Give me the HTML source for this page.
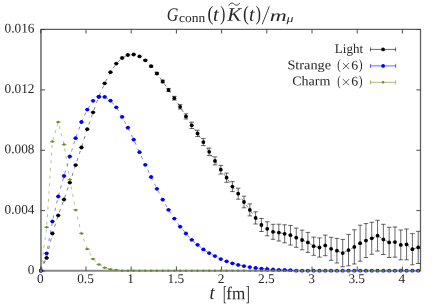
<!DOCTYPE html>
<html><head><meta charset="utf-8"><title>plot</title>
<style>
html,body{margin:0;padding:0;background:#fff;}
body{width:436px;height:305px;overflow:hidden;font-family:"Liberation Serif",serif;}
svg{display:block;}
text{font-family:"Liberation Serif",serif;fill:#262626;}
.tk{font-size:13.3px;}
.lg{font-size:12.5px;}
</style></head><body>
<svg width="436" height="305" viewBox="0 0 436 305">
<rect x="0" y="0" width="436" height="305" fill="#ffffff"/>

<line x1="40.949999999999996" y1="29.3" x2="40.949999999999996" y2="271.65" stroke="#888888" stroke-width="1.9"/>
<line x1="40.0" y1="270.7" x2="420.5" y2="270.7" stroke="#888888" stroke-width="1.9"/>
<path d="M40.8 29.3 H420.5 V270.7" fill="none" stroke="#606060" stroke-width="1.3"/>
<path d="M40.80 270.7 v-4.2 M40.80 29.3 v4.2 M86.00 270.7 v-4.2 M86.00 29.3 v4.2 M131.20 270.7 v-4.2 M131.20 29.3 v4.2 M176.40 270.7 v-4.2 M176.40 29.3 v4.2 M221.60 270.7 v-4.2 M221.60 29.3 v4.2 M266.80 270.7 v-4.2 M266.80 29.3 v4.2 M312.00 270.7 v-4.2 M312.00 29.3 v4.2 M357.20 270.7 v-4.2 M357.20 29.3 v4.2 M402.40 270.7 v-4.2 M402.40 29.3 v4.2 M40.8 270.95 h4.2 M420.5 270.95 h-4.2 M40.8 210.60 h4.2 M420.5 210.60 h-4.2 M40.8 150.25 h4.2 M420.5 150.25 h-4.2 M40.8 89.90 h4.2 M420.5 89.90 h-4.2 M40.8 29.55 h4.2 M420.5 29.55 h-4.2" fill="none" stroke="#3a3a3a" stroke-width="0.9"/>
<g opacity="0.995">
<text class="tk" transform="translate(40.3,283.0) rotate(0.05)" text-anchor="middle">0</text>
<text class="tk" transform="translate(85.5,283.0) rotate(0.05)" text-anchor="middle">0.5</text>
<text class="tk" transform="translate(130.7,283.0) rotate(0.05)" text-anchor="middle">1</text>
<text class="tk" transform="translate(175.9,283.0) rotate(0.05)" text-anchor="middle">1.5</text>
<text class="tk" transform="translate(221.1,283.0) rotate(0.05)" text-anchor="middle">2</text>
<text class="tk" transform="translate(266.3,283.0) rotate(0.05)" text-anchor="middle">2.5</text>
<text class="tk" transform="translate(311.5,283.0) rotate(0.05)" text-anchor="middle">3</text>
<text class="tk" transform="translate(356.7,283.0) rotate(0.05)" text-anchor="middle">3.5</text>
<text class="tk" transform="translate(401.9,283.0) rotate(0.05)" text-anchor="middle">4</text>
<text class="tk" transform="translate(34.5,274.0) rotate(0.05)" text-anchor="end">0</text>
<text class="tk" transform="translate(34.5,213.7) rotate(0.05)" text-anchor="end">0.004</text>
<text class="tk" transform="translate(34.5,153.3) rotate(0.05)" text-anchor="end">0.008</text>
<text class="tk" transform="translate(34.5,93.0) rotate(0.05)" text-anchor="end">0.012</text>
<text class="tk" transform="translate(34.5,32.6) rotate(0.05)" text-anchor="end">0.016</text>
</g>
<polyline points="40.80,270.70 46.61,257.90 52.41,233.50 58.22,215.40 64.02,199.50 69.83,182.60 75.64,165.10 81.44,147.50 87.25,129.20 93.05,112.30 98.86,96.60 104.67,83.30 110.47,72.20 116.28,63.60 122.08,58.00 127.89,55.00 133.70,54.50 139.50,56.40 145.31,60.30 151.11,66.20 156.92,73.50 162.73,81.50 168.53,90.00 174.34,98.20 180.14,106.80 185.95,116.40 191.76,125.30 197.56,133.40 203.37,142.10 209.17,151.80 214.98,160.90 220.79,169.70 226.59,177.70 232.40,186.60 238.20,193.70 244.01,202.00 249.82,209.90 255.62,217.90 261.43,225.00 267.23,228.80 273.04,231.80 278.85,232.60 284.65,233.80 290.46,235.20 296.26,237.70 302.07,240.00 307.88,242.40 313.68,246.20 319.49,247.50 325.29,245.40 331.10,248.80 336.91,250.70 342.71,253.10 348.52,250.10 354.32,246.90 360.13,243.20 365.94,240.60 371.74,238.30 377.55,235.70 383.35,239.40 389.16,242.40 394.97,242.10 400.77,244.90 406.58,244.40 412.38,249.20 418.19,247.40" fill="none" stroke="#000000" stroke-width="0.5" stroke-dasharray="3.2 4.5"/>
<path d="M46.61 257.70 V258.10 M44.36 257.70 h4.5 M44.36 258.10 h4.5 M52.41 233.30 V233.70 M50.16 233.30 h4.5 M50.16 233.70 h4.5 M58.22 215.20 V215.60 M55.97 215.20 h4.5 M55.97 215.60 h4.5 M64.02 199.30 V199.70 M61.77 199.30 h4.5 M61.77 199.70 h4.5 M69.83 182.40 V182.80 M67.58 182.40 h4.5 M67.58 182.80 h4.5 M75.64 164.90 V165.30 M73.39 164.90 h4.5 M73.39 165.30 h4.5 M81.44 147.30 V147.70 M79.19 147.30 h4.5 M79.19 147.70 h4.5 M87.25 129.00 V129.40 M85.00 129.00 h4.5 M85.00 129.40 h4.5 M93.05 112.10 V112.50 M90.80 112.10 h4.5 M90.80 112.50 h4.5 M98.86 96.40 V96.80 M96.61 96.40 h4.5 M96.61 96.80 h4.5 M104.67 83.10 V83.50 M102.42 83.10 h4.5 M102.42 83.50 h4.5 M110.47 72.00 V72.40 M108.22 72.00 h4.5 M108.22 72.40 h4.5 M116.28 63.40 V63.80 M114.03 63.40 h4.5 M114.03 63.80 h4.5 M122.08 57.80 V58.20 M119.83 57.80 h4.5 M119.83 58.20 h4.5 M127.89 54.80 V55.20 M125.64 54.80 h4.5 M125.64 55.20 h4.5 M133.70 54.30 V54.70 M131.45 54.30 h4.5 M131.45 54.70 h4.5 M139.50 56.20 V56.60 M137.25 56.20 h4.5 M137.25 56.60 h4.5 M145.31 59.70 V60.90 M143.06 59.70 h4.5 M143.06 60.90 h4.5 M151.11 65.40 V67.00 M148.86 65.40 h4.5 M148.86 67.00 h4.5 M156.92 72.50 V74.50 M154.67 72.50 h4.5 M154.67 74.50 h4.5 M162.73 80.20 V82.80 M160.48 80.20 h4.5 M160.48 82.80 h4.5 M168.53 88.40 V91.60 M166.28 88.40 h4.5 M166.28 91.60 h4.5 M174.34 96.30 V100.10 M172.09 96.30 h4.5 M172.09 100.10 h4.5 M180.14 104.60 V109.00 M177.89 104.60 h4.5 M177.89 109.00 h4.5 M185.95 113.80 V119.00 M183.70 113.80 h4.5 M183.70 119.00 h4.5 M191.76 122.10 V128.50 M189.51 122.10 h4.5 M189.51 128.50 h4.5 M197.56 130.20 V136.60 M195.31 130.20 h4.5 M195.31 136.60 h4.5 M203.37 138.60 V145.60 M201.12 138.60 h4.5 M201.12 145.60 h4.5 M209.17 148.00 V155.60 M206.92 148.00 h4.5 M206.92 155.60 h4.5 M214.98 156.90 V164.90 M212.73 156.90 h4.5 M212.73 164.90 h4.5 M220.79 165.40 V174.00 M218.54 165.40 h4.5 M218.54 174.00 h4.5 M226.59 173.10 V182.30 M224.34 173.10 h4.5 M224.34 182.30 h4.5 M232.40 181.60 V191.60 M230.15 181.60 h4.5 M230.15 191.60 h4.5 M238.20 188.20 V199.20 M235.95 188.20 h4.5 M235.95 199.20 h4.5 M244.01 196.20 V207.80 M241.76 196.20 h4.5 M241.76 207.80 h4.5 M249.82 203.90 V215.90 M247.57 203.90 h4.5 M247.57 215.90 h4.5 M255.62 211.80 V224.00 M253.37 211.80 h4.5 M253.37 224.00 h4.5 M261.43 218.50 V231.50 M259.18 218.50 h4.5 M259.18 231.50 h4.5 M267.23 221.80 V235.80 M264.98 221.80 h4.5 M264.98 235.80 h4.5 M273.04 224.30 V239.30 M270.79 224.30 h4.5 M270.79 239.30 h4.5 M278.85 224.20 V241.00 M276.60 224.20 h4.5 M276.60 241.00 h4.5 M284.65 224.80 V242.80 M282.40 224.80 h4.5 M282.40 242.80 h4.5 M290.46 225.40 V245.00 M288.21 225.40 h4.5 M288.21 245.00 h4.5 M296.26 228.10 V247.30 M294.01 228.10 h4.5 M294.01 247.30 h4.5 M302.07 230.20 V249.80 M299.82 230.20 h4.5 M299.82 249.80 h4.5 M307.88 232.40 V252.40 M305.63 232.40 h4.5 M305.63 252.40 h4.5 M313.68 237.10 V255.30 M311.43 237.10 h4.5 M311.43 255.30 h4.5 M319.49 237.90 V257.10 M317.24 237.90 h4.5 M317.24 257.10 h4.5 M325.29 235.10 V255.70 M323.04 235.10 h4.5 M323.04 255.70 h4.5 M331.10 237.30 V260.30 M328.85 237.30 h4.5 M328.85 260.30 h4.5 M336.91 238.40 V263.00 M334.66 238.40 h4.5 M334.66 263.00 h4.5 M342.71 239.40 V266.80 M340.46 239.40 h4.5 M340.46 266.80 h4.5 M348.52 234.40 V265.80 M346.27 234.40 h4.5 M346.27 265.80 h4.5 M354.32 229.80 V264.00 M352.07 229.80 h4.5 M352.07 264.00 h4.5 M360.13 225.20 V261.20 M357.88 225.20 h4.5 M357.88 261.20 h4.5 M365.94 223.60 V257.60 M363.69 223.60 h4.5 M363.69 257.60 h4.5 M371.74 222.30 V254.30 M369.49 222.30 h4.5 M369.49 254.30 h4.5 M377.55 220.30 V251.10 M375.30 220.30 h4.5 M375.30 251.10 h4.5 M383.35 224.30 V254.50 M381.10 224.30 h4.5 M381.10 254.50 h4.5 M389.16 227.30 V257.50 M386.91 227.30 h4.5 M386.91 257.50 h4.5 M394.97 227.00 V257.20 M392.72 227.00 h4.5 M392.72 257.20 h4.5 M400.77 230.00 V259.80 M398.52 230.00 h4.5 M398.52 259.80 h4.5 M406.58 229.00 V259.80 M404.33 229.00 h4.5 M404.33 259.80 h4.5 M412.38 233.60 V264.80 M410.13 233.60 h4.5 M410.13 264.80 h4.5 M418.19 231.30 V263.50 M415.94 231.30 h4.5 M415.94 263.50 h4.5" fill="none" stroke="#000000" stroke-width="0.6"/>
<circle cx="40.80" cy="270.70" r="1.9" fill="#000000"/>
<circle cx="46.61" cy="257.90" r="1.9" fill="#000000"/>
<circle cx="52.41" cy="233.50" r="1.9" fill="#000000"/>
<circle cx="58.22" cy="215.40" r="1.9" fill="#000000"/>
<circle cx="64.02" cy="199.50" r="1.9" fill="#000000"/>
<circle cx="69.83" cy="182.60" r="1.9" fill="#000000"/>
<circle cx="75.64" cy="165.10" r="1.9" fill="#000000"/>
<circle cx="81.44" cy="147.50" r="1.9" fill="#000000"/>
<circle cx="87.25" cy="129.20" r="1.9" fill="#000000"/>
<circle cx="93.05" cy="112.30" r="1.9" fill="#000000"/>
<circle cx="98.86" cy="96.60" r="1.9" fill="#000000"/>
<circle cx="104.67" cy="83.30" r="1.9" fill="#000000"/>
<circle cx="110.47" cy="72.20" r="1.9" fill="#000000"/>
<circle cx="116.28" cy="63.60" r="1.9" fill="#000000"/>
<circle cx="122.08" cy="58.00" r="1.9" fill="#000000"/>
<circle cx="127.89" cy="55.00" r="1.9" fill="#000000"/>
<circle cx="133.70" cy="54.50" r="1.9" fill="#000000"/>
<circle cx="139.50" cy="56.40" r="1.9" fill="#000000"/>
<circle cx="145.31" cy="60.30" r="1.9" fill="#000000"/>
<circle cx="151.11" cy="66.20" r="1.9" fill="#000000"/>
<circle cx="156.92" cy="73.50" r="1.9" fill="#000000"/>
<circle cx="162.73" cy="81.50" r="1.9" fill="#000000"/>
<circle cx="168.53" cy="90.00" r="1.9" fill="#000000"/>
<circle cx="174.34" cy="98.20" r="1.9" fill="#000000"/>
<circle cx="180.14" cy="106.80" r="1.9" fill="#000000"/>
<circle cx="185.95" cy="116.40" r="1.9" fill="#000000"/>
<circle cx="191.76" cy="125.30" r="1.9" fill="#000000"/>
<circle cx="197.56" cy="133.40" r="1.9" fill="#000000"/>
<circle cx="203.37" cy="142.10" r="1.9" fill="#000000"/>
<circle cx="209.17" cy="151.80" r="1.9" fill="#000000"/>
<circle cx="214.98" cy="160.90" r="1.9" fill="#000000"/>
<circle cx="220.79" cy="169.70" r="1.9" fill="#000000"/>
<circle cx="226.59" cy="177.70" r="1.9" fill="#000000"/>
<circle cx="232.40" cy="186.60" r="1.9" fill="#000000"/>
<circle cx="238.20" cy="193.70" r="1.9" fill="#000000"/>
<circle cx="244.01" cy="202.00" r="1.9" fill="#000000"/>
<circle cx="249.82" cy="209.90" r="1.9" fill="#000000"/>
<circle cx="255.62" cy="217.90" r="1.9" fill="#000000"/>
<circle cx="261.43" cy="225.00" r="1.9" fill="#000000"/>
<circle cx="267.23" cy="228.80" r="1.9" fill="#000000"/>
<circle cx="273.04" cy="231.80" r="1.9" fill="#000000"/>
<circle cx="278.85" cy="232.60" r="1.9" fill="#000000"/>
<circle cx="284.65" cy="233.80" r="1.9" fill="#000000"/>
<circle cx="290.46" cy="235.20" r="1.9" fill="#000000"/>
<circle cx="296.26" cy="237.70" r="1.9" fill="#000000"/>
<circle cx="302.07" cy="240.00" r="1.9" fill="#000000"/>
<circle cx="307.88" cy="242.40" r="1.9" fill="#000000"/>
<circle cx="313.68" cy="246.20" r="1.9" fill="#000000"/>
<circle cx="319.49" cy="247.50" r="1.9" fill="#000000"/>
<circle cx="325.29" cy="245.40" r="1.9" fill="#000000"/>
<circle cx="331.10" cy="248.80" r="1.9" fill="#000000"/>
<circle cx="336.91" cy="250.70" r="1.9" fill="#000000"/>
<circle cx="342.71" cy="253.10" r="1.9" fill="#000000"/>
<circle cx="348.52" cy="250.10" r="1.9" fill="#000000"/>
<circle cx="354.32" cy="246.90" r="1.9" fill="#000000"/>
<circle cx="360.13" cy="243.20" r="1.9" fill="#000000"/>
<circle cx="365.94" cy="240.60" r="1.9" fill="#000000"/>
<circle cx="371.74" cy="238.30" r="1.9" fill="#000000"/>
<circle cx="377.55" cy="235.70" r="1.9" fill="#000000"/>
<circle cx="383.35" cy="239.40" r="1.9" fill="#000000"/>
<circle cx="389.16" cy="242.40" r="1.9" fill="#000000"/>
<circle cx="394.97" cy="242.10" r="1.9" fill="#000000"/>
<circle cx="400.77" cy="244.90" r="1.9" fill="#000000"/>
<circle cx="406.58" cy="244.40" r="1.9" fill="#000000"/>
<circle cx="412.38" cy="249.20" r="1.9" fill="#000000"/>
<circle cx="418.19" cy="247.40" r="1.9" fill="#000000"/>
<polyline points="40.80,270.70 46.61,253.30 52.41,221.40 58.22,196.50 64.02,176.00 69.83,156.50 75.64,138.20 81.44,122.00 87.25,109.60 93.05,100.80 98.86,96.90 104.67,96.90 110.47,100.70 116.28,107.30 122.08,116.90 127.89,127.70 133.70,139.70 139.50,152.20 145.31,164.80 151.11,177.00 156.92,188.80 162.73,199.70 168.53,209.80 174.34,218.60 180.14,226.70 185.95,233.50 191.76,239.80 197.56,244.80 203.37,249.40 209.17,253.10 214.98,256.10 220.79,259.10 226.59,261.30 232.40,263.30 238.20,264.90 244.01,266.10 249.82,267.10 255.62,268.00 261.43,268.60 267.23,269.10 273.04,269.50 278.85,269.80 284.65,270.00 290.46,270.20 296.26,270.70" fill="none" stroke="#0000ff" stroke-width="0.5" stroke-dasharray="3.2 4.5"/>
<path d="M46.61 253.15 V253.45 M44.36 253.15 h4.5 M44.36 253.45 h4.5 M52.41 221.25 V221.55 M50.16 221.25 h4.5 M50.16 221.55 h4.5 M58.22 196.35 V196.65 M55.97 196.35 h4.5 M55.97 196.65 h4.5 M64.02 175.85 V176.15 M61.77 175.85 h4.5 M61.77 176.15 h4.5 M69.83 156.35 V156.65 M67.58 156.35 h4.5 M67.58 156.65 h4.5 M75.64 138.05 V138.35 M73.39 138.05 h4.5 M73.39 138.35 h4.5 M81.44 121.85 V122.15 M79.19 121.85 h4.5 M79.19 122.15 h4.5 M87.25 109.45 V109.75 M85.00 109.45 h4.5 M85.00 109.75 h4.5 M93.05 100.65 V100.95 M90.80 100.65 h4.5 M90.80 100.95 h4.5 M98.86 96.75 V97.05 M96.61 96.75 h4.5 M96.61 97.05 h4.5 M104.67 96.75 V97.05 M102.42 96.75 h4.5 M102.42 97.05 h4.5 M110.47 100.55 V100.85 M108.22 100.55 h4.5 M108.22 100.85 h4.5 M116.28 107.15 V107.45 M114.03 107.15 h4.5 M114.03 107.45 h4.5 M122.08 116.75 V117.05 M119.83 116.75 h4.5 M119.83 117.05 h4.5 M127.89 127.55 V127.85 M125.64 127.55 h4.5 M125.64 127.85 h4.5 M133.70 139.55 V139.85 M131.45 139.55 h4.5 M131.45 139.85 h4.5 M139.50 152.05 V152.35 M137.25 152.05 h4.5 M137.25 152.35 h4.5 M145.31 164.65 V164.95 M143.06 164.65 h4.5 M143.06 164.95 h4.5 M151.11 176.85 V177.15 M148.86 176.85 h4.5 M148.86 177.15 h4.5 M156.92 188.65 V188.95 M154.67 188.65 h4.5 M154.67 188.95 h4.5 M162.73 199.55 V199.85 M160.48 199.55 h4.5 M160.48 199.85 h4.5 M168.53 209.65 V209.95 M166.28 209.65 h4.5 M166.28 209.95 h4.5 M174.34 218.45 V218.75 M172.09 218.45 h4.5 M172.09 218.75 h4.5 M180.14 226.55 V226.85 M177.89 226.55 h4.5 M177.89 226.85 h4.5 M185.95 233.35 V233.65 M183.70 233.35 h4.5 M183.70 233.65 h4.5 M191.76 239.65 V239.95 M189.51 239.65 h4.5 M189.51 239.95 h4.5 M197.56 244.65 V244.95 M195.31 244.65 h4.5 M195.31 244.95 h4.5 M203.37 249.25 V249.55 M201.12 249.25 h4.5 M201.12 249.55 h4.5 M209.17 252.95 V253.25 M206.92 252.95 h4.5 M206.92 253.25 h4.5 M214.98 255.95 V256.25 M212.73 255.95 h4.5 M212.73 256.25 h4.5 M220.79 258.95 V259.25 M218.54 258.95 h4.5 M218.54 259.25 h4.5 M226.59 261.15 V261.45 M224.34 261.15 h4.5 M224.34 261.45 h4.5 M232.40 263.15 V263.45 M230.15 263.15 h4.5 M230.15 263.45 h4.5 M238.20 264.75 V265.05 M235.95 264.75 h4.5 M235.95 265.05 h4.5 M244.01 265.95 V266.25 M241.76 265.95 h4.5 M241.76 266.25 h4.5 M249.82 266.95 V267.25 M247.57 266.95 h4.5 M247.57 267.25 h4.5 M255.62 267.85 V268.15 M253.37 267.85 h4.5 M253.37 268.15 h4.5 M261.43 268.45 V268.75 M259.18 268.45 h4.5 M259.18 268.75 h4.5 M267.23 268.95 V269.25 M264.98 268.95 h4.5 M264.98 269.25 h4.5 M273.04 269.35 V269.65 M270.79 269.35 h4.5 M270.79 269.65 h4.5 M278.85 269.65 V269.95 M276.60 269.65 h4.5 M276.60 269.95 h4.5 M284.65 269.85 V270.15 M282.40 269.85 h4.5 M282.40 270.15 h4.5 M290.46 270.05 V270.35 M288.21 270.05 h4.5 M288.21 270.35 h4.5" fill="none" stroke="#0000ff" stroke-width="0.6"/>
<circle cx="40.80" cy="270.70" r="1.9" fill="#0000ff"/>
<circle cx="46.61" cy="253.30" r="1.9" fill="#0000ff"/>
<circle cx="52.41" cy="221.40" r="1.9" fill="#0000ff"/>
<circle cx="58.22" cy="196.50" r="1.9" fill="#0000ff"/>
<circle cx="64.02" cy="176.00" r="1.9" fill="#0000ff"/>
<circle cx="69.83" cy="156.50" r="1.9" fill="#0000ff"/>
<circle cx="75.64" cy="138.20" r="1.9" fill="#0000ff"/>
<circle cx="81.44" cy="122.00" r="1.9" fill="#0000ff"/>
<circle cx="87.25" cy="109.60" r="1.9" fill="#0000ff"/>
<circle cx="93.05" cy="100.80" r="1.9" fill="#0000ff"/>
<circle cx="98.86" cy="96.90" r="1.9" fill="#0000ff"/>
<circle cx="104.67" cy="96.90" r="1.9" fill="#0000ff"/>
<circle cx="110.47" cy="100.70" r="1.9" fill="#0000ff"/>
<circle cx="116.28" cy="107.30" r="1.9" fill="#0000ff"/>
<circle cx="122.08" cy="116.90" r="1.9" fill="#0000ff"/>
<circle cx="127.89" cy="127.70" r="1.9" fill="#0000ff"/>
<circle cx="133.70" cy="139.70" r="1.9" fill="#0000ff"/>
<circle cx="139.50" cy="152.20" r="1.9" fill="#0000ff"/>
<circle cx="145.31" cy="164.80" r="1.9" fill="#0000ff"/>
<circle cx="151.11" cy="177.00" r="1.9" fill="#0000ff"/>
<circle cx="156.92" cy="188.80" r="1.9" fill="#0000ff"/>
<circle cx="162.73" cy="199.70" r="1.9" fill="#0000ff"/>
<circle cx="168.53" cy="209.80" r="1.9" fill="#0000ff"/>
<circle cx="174.34" cy="218.60" r="1.9" fill="#0000ff"/>
<circle cx="180.14" cy="226.70" r="1.9" fill="#0000ff"/>
<circle cx="185.95" cy="233.50" r="1.9" fill="#0000ff"/>
<circle cx="191.76" cy="239.80" r="1.9" fill="#0000ff"/>
<circle cx="197.56" cy="244.80" r="1.9" fill="#0000ff"/>
<circle cx="203.37" cy="249.40" r="1.9" fill="#0000ff"/>
<circle cx="209.17" cy="253.10" r="1.9" fill="#0000ff"/>
<circle cx="214.98" cy="256.10" r="1.9" fill="#0000ff"/>
<circle cx="220.79" cy="259.10" r="1.9" fill="#0000ff"/>
<circle cx="226.59" cy="261.30" r="1.9" fill="#0000ff"/>
<circle cx="232.40" cy="263.30" r="1.9" fill="#0000ff"/>
<circle cx="238.20" cy="264.90" r="1.9" fill="#0000ff"/>
<circle cx="244.01" cy="266.10" r="1.9" fill="#0000ff"/>
<circle cx="249.82" cy="267.10" r="1.9" fill="#0000ff"/>
<circle cx="255.62" cy="268.00" r="1.9" fill="#0000ff"/>
<circle cx="261.43" cy="268.60" r="1.9" fill="#0000ff"/>
<circle cx="267.23" cy="269.10" r="1.9" fill="#0000ff"/>
<circle cx="273.04" cy="269.50" r="1.9" fill="#0000ff"/>
<circle cx="278.85" cy="269.80" r="1.9" fill="#0000ff"/>
<circle cx="284.65" cy="270.00" r="1.9" fill="#0000ff"/>
<circle cx="290.46" cy="270.20" r="1.9" fill="#0000ff"/>
<circle cx="296.26" cy="270.70" r="1.9" fill="#0000ff"/>
<circle cx="302.07" cy="270.70" r="1.9" fill="#0000ff"/>
<circle cx="307.88" cy="270.70" r="1.9" fill="#0000ff"/>
<circle cx="313.68" cy="270.70" r="1.9" fill="#0000ff"/>
<circle cx="319.49" cy="270.70" r="1.9" fill="#0000ff"/>
<circle cx="325.29" cy="270.70" r="1.9" fill="#0000ff"/>
<circle cx="331.10" cy="270.70" r="1.9" fill="#0000ff"/>
<circle cx="336.91" cy="270.70" r="1.9" fill="#0000ff"/>
<circle cx="342.71" cy="270.70" r="1.9" fill="#0000ff"/>
<circle cx="348.52" cy="270.70" r="1.9" fill="#0000ff"/>
<circle cx="354.32" cy="270.70" r="1.9" fill="#0000ff"/>
<circle cx="360.13" cy="270.70" r="1.9" fill="#0000ff"/>
<circle cx="365.94" cy="270.70" r="1.9" fill="#0000ff"/>
<circle cx="371.74" cy="270.70" r="1.9" fill="#0000ff"/>
<circle cx="377.55" cy="270.70" r="1.9" fill="#0000ff"/>
<circle cx="383.35" cy="270.70" r="1.9" fill="#0000ff"/>
<circle cx="389.16" cy="270.70" r="1.9" fill="#0000ff"/>
<circle cx="394.97" cy="270.70" r="1.9" fill="#0000ff"/>
<circle cx="400.77" cy="270.70" r="1.9" fill="#0000ff"/>
<circle cx="406.58" cy="270.70" r="1.9" fill="#0000ff"/>
<circle cx="412.38" cy="270.70" r="1.9" fill="#0000ff"/>
<circle cx="418.19" cy="270.70" r="1.9" fill="#0000ff"/>
<polyline points="40.80,270.70 46.61,227.30 52.41,141.60 58.22,122.10 64.02,144.60 69.83,179.60 75.64,209.90 81.44,233.40 87.25,249.10 93.05,258.90 98.86,264.40 104.67,267.70 110.47,269.20 116.28,270.00 122.08,270.70" fill="none" stroke="#6b8e23" stroke-width="0.5" stroke-dasharray="3.2 4.5"/>
<path d="M46.61 227.15 V227.45 M44.36 227.15 h4.5 M44.36 227.45 h4.5 M52.41 141.45 V141.75 M50.16 141.45 h4.5 M50.16 141.75 h4.5 M58.22 121.95 V122.25 M55.97 121.95 h4.5 M55.97 122.25 h4.5 M64.02 144.45 V144.75 M61.77 144.45 h4.5 M61.77 144.75 h4.5 M69.83 179.45 V179.75 M67.58 179.45 h4.5 M67.58 179.75 h4.5 M75.64 209.75 V210.05 M73.39 209.75 h4.5 M73.39 210.05 h4.5 M81.44 233.25 V233.55 M79.19 233.25 h4.5 M79.19 233.55 h4.5 M87.25 248.95 V249.25 M85.00 248.95 h4.5 M85.00 249.25 h4.5 M93.05 258.75 V259.05 M90.80 258.75 h4.5 M90.80 259.05 h4.5 M98.86 264.25 V264.55 M96.61 264.25 h4.5 M96.61 264.55 h4.5 M104.67 267.55 V267.85 M102.42 267.55 h4.5 M102.42 267.85 h4.5 M110.47 269.05 V269.35 M108.22 269.05 h4.5 M108.22 269.35 h4.5 M116.28 269.85 V270.15 M114.03 269.85 h4.5 M114.03 270.15 h4.5" fill="none" stroke="#6b8e23" stroke-width="0.6"/>
<circle cx="40.80" cy="270.70" r="1.25" fill="#6b8e23"/>
<circle cx="46.61" cy="227.30" r="1.25" fill="#6b8e23"/>
<circle cx="52.41" cy="141.60" r="1.25" fill="#6b8e23"/>
<circle cx="58.22" cy="122.10" r="1.25" fill="#6b8e23"/>
<circle cx="64.02" cy="144.60" r="1.25" fill="#6b8e23"/>
<circle cx="69.83" cy="179.60" r="1.25" fill="#6b8e23"/>
<circle cx="75.64" cy="209.90" r="1.25" fill="#6b8e23"/>
<circle cx="81.44" cy="233.40" r="1.25" fill="#6b8e23"/>
<circle cx="87.25" cy="249.10" r="1.25" fill="#6b8e23"/>
<circle cx="93.05" cy="258.90" r="1.25" fill="#6b8e23"/>
<circle cx="98.86" cy="264.40" r="1.25" fill="#6b8e23"/>
<circle cx="104.67" cy="267.70" r="1.25" fill="#6b8e23"/>
<circle cx="110.47" cy="269.20" r="1.25" fill="#6b8e23"/>
<circle cx="116.28" cy="270.00" r="1.25" fill="#6b8e23"/>
<circle cx="122.08" cy="270.70" r="1.25" fill="#6b8e23"/>
<circle cx="127.89" cy="270.70" r="1.25" fill="#6b8e23"/>
<circle cx="133.70" cy="270.70" r="1.25" fill="#6b8e23"/>
<circle cx="139.50" cy="270.70" r="1.25" fill="#6b8e23"/>
<circle cx="145.31" cy="270.70" r="1.25" fill="#6b8e23"/>
<circle cx="151.11" cy="270.70" r="1.25" fill="#6b8e23"/>
<circle cx="156.92" cy="270.70" r="1.25" fill="#6b8e23"/>
<circle cx="162.73" cy="270.70" r="1.25" fill="#6b8e23"/>
<circle cx="168.53" cy="270.70" r="1.25" fill="#6b8e23"/>
<circle cx="174.34" cy="270.70" r="1.25" fill="#6b8e23"/>
<circle cx="180.14" cy="270.70" r="1.25" fill="#6b8e23"/>
<circle cx="185.95" cy="270.70" r="1.25" fill="#6b8e23"/>
<circle cx="191.76" cy="270.70" r="1.25" fill="#6b8e23"/>
<circle cx="197.56" cy="270.70" r="1.25" fill="#6b8e23"/>
<circle cx="203.37" cy="270.70" r="1.25" fill="#6b8e23"/>
<circle cx="209.17" cy="270.70" r="1.25" fill="#6b8e23"/>
<circle cx="214.98" cy="270.70" r="1.25" fill="#6b8e23"/>
<circle cx="220.79" cy="270.70" r="1.25" fill="#6b8e23"/>
<circle cx="226.59" cy="270.70" r="1.25" fill="#6b8e23"/>
<circle cx="232.40" cy="270.70" r="1.25" fill="#6b8e23"/>
<circle cx="238.20" cy="270.70" r="1.25" fill="#6b8e23"/>
<circle cx="244.01" cy="270.70" r="1.25" fill="#6b8e23"/>
<circle cx="249.82" cy="270.70" r="1.25" fill="#6b8e23"/>
<circle cx="255.62" cy="270.70" r="1.25" fill="#6b8e23"/>
<circle cx="261.43" cy="270.70" r="1.25" fill="#6b8e23"/>
<circle cx="267.23" cy="270.70" r="1.25" fill="#6b8e23"/>
<circle cx="273.04" cy="270.70" r="1.25" fill="#6b8e23"/>
<circle cx="278.85" cy="270.70" r="1.25" fill="#6b8e23"/>
<circle cx="284.65" cy="270.70" r="1.25" fill="#6b8e23"/>
<circle cx="290.46" cy="270.70" r="1.25" fill="#6b8e23"/>
<circle cx="296.26" cy="270.70" r="1.25" fill="#6b8e23"/>
<circle cx="302.07" cy="270.70" r="1.25" fill="#6b8e23"/>
<circle cx="307.88" cy="270.70" r="1.25" fill="#6b8e23"/>
<circle cx="313.68" cy="270.70" r="1.25" fill="#6b8e23"/>
<circle cx="319.49" cy="270.70" r="1.25" fill="#6b8e23"/>
<circle cx="325.29" cy="270.70" r="1.25" fill="#6b8e23"/>
<circle cx="331.10" cy="270.70" r="1.25" fill="#6b8e23"/>
<circle cx="336.91" cy="270.70" r="1.25" fill="#6b8e23"/>
<circle cx="342.71" cy="270.70" r="1.25" fill="#6b8e23"/>
<circle cx="348.52" cy="270.70" r="1.25" fill="#6b8e23"/>
<circle cx="354.32" cy="270.70" r="1.25" fill="#6b8e23"/>
<circle cx="360.13" cy="270.70" r="1.25" fill="#6b8e23"/>
<circle cx="365.94" cy="270.70" r="1.25" fill="#6b8e23"/>
<circle cx="371.74" cy="270.70" r="1.25" fill="#6b8e23"/>
<circle cx="377.55" cy="270.70" r="1.25" fill="#6b8e23"/>
<circle cx="383.35" cy="270.70" r="1.25" fill="#6b8e23"/>
<circle cx="389.16" cy="270.70" r="1.25" fill="#6b8e23"/>
<circle cx="394.97" cy="270.70" r="1.25" fill="#6b8e23"/>
<circle cx="400.77" cy="270.70" r="1.25" fill="#6b8e23"/>
<circle cx="406.58" cy="270.70" r="1.25" fill="#6b8e23"/>
<circle cx="412.38" cy="270.70" r="1.25" fill="#6b8e23"/>
<circle cx="418.19" cy="270.70" r="1.25" fill="#6b8e23"/>
<path d="M370.5 49.4 H395.6 M370.5 47.4 v4 M395.6 47.4 v4" fill="none" stroke="#000000" stroke-width="0.6"/>
<circle cx="383.1" cy="49.4" r="1.9" fill="#000000"/>
<path d="M370.5 65.9 H395.6 M370.5 63.900000000000006 v4 M395.6 63.900000000000006 v4" fill="none" stroke="#0000ff" stroke-width="0.6"/>
<circle cx="383.1" cy="65.9" r="1.9" fill="#0000ff"/>
<path d="M370.5 82.3 H395.6 M370.5 80.3 v4 M395.6 80.3 v4" fill="none" stroke="#6b8e23" stroke-width="0.6"/>
<circle cx="383.1" cy="82.3" r="1.25" fill="#6b8e23"/>
<g opacity="0.995">
<text transform="translate(166.84,20.85) rotate(0.05) scale(0.858,1.012)" font-size="18.7px" font-style="italic">G</text>
<text transform="translate(179.08,22.0) rotate(0.05) scale(1.037,1.0)" font-size="13.0px">conn</text>
<text transform="translate(207.49,20.32) rotate(0.05) scale(0.947,1.115)" font-size="18.5px">(</text>
<text transform="translate(212.96,20.73) rotate(0.05) scale(1.116,1.06)" font-size="18.5px" font-style="italic">t</text>
<text transform="translate(220.29,20.32) rotate(0.05) scale(0.821,1.115)" font-size="18.5px">)</text>
<text transform="translate(227.18,20.8) rotate(0.05) scale(1.119,1.02)" font-size="18.7px" font-style="italic">K</text>
<text transform="translate(242.89,20.32) rotate(0.05) scale(0.947,1.115)" font-size="18.5px">(</text>
<text transform="translate(248.89,20.73) rotate(0.05) scale(1.074,1.06)" font-size="18.5px" font-style="italic">t</text>
<text transform="translate(255.68,20.32) rotate(0.05) scale(0.842,1.115)" font-size="18.5px">)</text>
<text transform="translate(269.76,20.9) rotate(0.05) scale(1.126,0.79)" font-size="21px" font-style="italic">m</text>
<text transform="translate(286.6,22.04) rotate(0.05) scale(1.113,0.824)" font-size="12.5px" font-style="italic">μ</text>
<text transform="translate(334.86,53.0) rotate(0.05) scale(0.979,1.0)" font-size="13.3px">Light</text>
<text transform="translate(287.39,69.2) rotate(0.05) scale(1.078,1.0)" font-size="13.3px">Strange</text>
<text transform="translate(337.31,69.32) rotate(0.05) scale(0.771,1.083)" font-size="13.3px">(</text>
<text transform="translate(351.18,69.4) rotate(0.05) scale(1.043,1.0)" font-size="13.3px">6</text>
<text transform="translate(358.87,69.32) rotate(0.05) scale(0.862,1.083)" font-size="13.3px">)</text>
<text transform="translate(292.17,85.2) rotate(0.05) scale(1.056,1.0)" font-size="13.3px">Charm</text>
<text transform="translate(337.31,85.42) rotate(0.05) scale(0.771,1.083)" font-size="13.3px">(</text>
<text transform="translate(351.18,85.5) rotate(0.05) scale(1.043,1.0)" font-size="13.3px">6</text>
<text transform="translate(358.87,85.42) rotate(0.05) scale(0.862,1.083)" font-size="13.3px">)</text>
<text transform="translate(209.54,299.03) rotate(0.05) scale(1.011,1.06)" font-size="18.5px" font-style="italic">t</text>
<text transform="translate(222.95,300.38) rotate(0.05) scale(0.6,1.167)" font-size="18.0px">[</text>
<text transform="translate(226.32,299.2) rotate(0.05) scale(0.951,1.0)" font-size="18.0px">fm</text>
<text transform="translate(245.77,300.38) rotate(0.05) scale(0.659,1.167)" font-size="18.0px">]</text>
</g>
<path d="M342.9 62.99999999999999 l6.2 6.2 M342.9 69.19999999999999 l6.2 -6.2" fill="none" stroke="#2a2a2a" stroke-width="0.75"/>
<path d="M342.9 79.10000000000001 l6.2 6.2 M342.9 85.3 l6.2 -6.2" fill="none" stroke="#2a2a2a" stroke-width="0.75"/>
<path d="M262.2 24.3 L269.3 6.3" fill="none" stroke="#2a2a2a" stroke-width="0.9"/>
<path d="M228.8 5.6 C230.6 2.4 232.6 2.6 234.3 4.2 S238.2 5.6 239.8 3.0" fill="none" stroke="#333" stroke-width="1.0"/>
</svg></body></html>
